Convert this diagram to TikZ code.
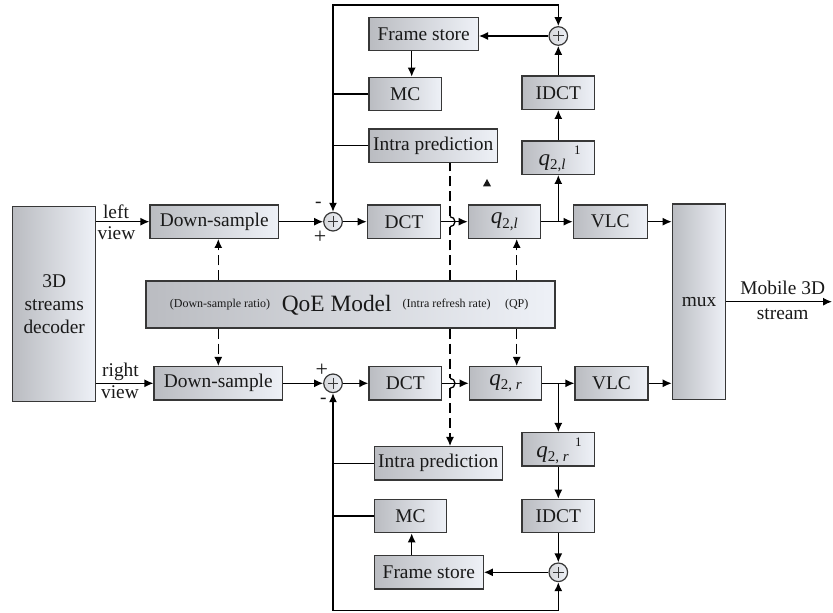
\documentclass[tikz,border=0pt]{standalone}
\usepackage{fontspec}
\setmainfont{Liberation Serif}
\usetikzlibrary{arrows.meta}
\definecolor{bxL}{RGB}{186,188,193}
\definecolor{bxR}{RGB}{238,241,247}
\definecolor{edge}{RGB}{55,55,55}
\definecolor{txt}{RGB}{25,25,25}
\newcommand{\qsym}[1]{{\fontsize{11.5}{12}\selectfont\textit{q}}\raisebox{-0.5ex}{\fontsize{7.5}{8}\selectfont #1}}
\begin{document}
\begin{tikzpicture}[x=0.5pt,y=-0.5pt,
  font=\fontsize{9.7}{11.5}\selectfont,
  box/.style={draw=edge, line width=0.6pt, left color=bxL, right color=bxR, inner sep=0pt, align=center, text=txt, minimum height=16.7pt},
  sumc/.style={circle, draw=edge, line width=0.6pt, left color=bxL!60!white, right color=bxR, minimum size=9.3pt, inner sep=0pt,
    path picture={\draw[line width=0.5pt, edge]
      ([yshift=-2pt]path picture bounding box.north) -- ([yshift=2pt]path picture bounding box.south)
      ([xshift=2pt]path picture bounding box.west) -- ([xshift=-2pt]path picture bounding box.east);}},
  arr/.style={line width=0.65pt, -{Latex[length=4.5pt,width=4pt]}},
  arrb/.style={line width=0.65pt, {Latex[length=4.5pt,width=4pt]}-{Latex[length=4.5pt,width=4pt]}},
  ln/.style={line width=0.65pt},
  dsh/.style={line width=0.65pt, dash pattern=on 5pt off 2.5pt},
  lbl/.style={inner sep=0pt, text=txt},
  small/.style={font=\fontsize{6}{7}\selectfont}
]
\path[use as bounding box] (0,0) rectangle (833,613);

% ---- boxes
\node[box, minimum width=41.5pt, minimum height=97.5pt] (dec) at (54.2,304.2) {3D\\streams\\decoder};
\node[box, minimum width=64.2pt] (dsl) at (214.2,221.7) {Down-sample};
\node[box, minimum width=64.3pt] (dsr) at (218.3,383.3) {Down-sample};
\node[box, minimum width=204.5pt, minimum height=23.5pt] (qoe) at (350.5,304.5) {};
\node[lbl, small, anchor=base] (qoe1) at (220,307.5) {(Down-sample ratio)};
\node[lbl, font=\fontsize{11.7}{13}\selectfont, anchor=base] (qoe2) at (336.7,312) {QoE Model};
\node[lbl, small, anchor=base] (qoe3) at (446.7,307.5) {(Intra refresh rate)};
\node[lbl, small, anchor=base] (qoe4) at (516.7,307.5) {(QP)};

\node[box, minimum width=36.7pt] (dctl) at (404,221.7) {DCT};
\node[box, minimum width=36.4pt] (dctr) at (405.3,383.3) {DCT};
\node[box, minimum width=36.1pt] (ql) at (504.4,221.7) {\qsym{2,\textit{l}}};
\node[box, minimum width=36.2pt] (qr) at (505.5,383.3) {\qsym{2, \textit{r}}};
\node[box, minimum width=36.9pt] (vlcl) at (610.2,221.7) {VLC};
\node[box, minimum width=36.5pt] (vlcr) at (611.5,383.3) {VLC};
\node[box, minimum width=26.7pt, minimum height=97.7pt] (mux) at (699,301.7) {mux};

\node[box, minimum width=54.7pt] (fsl) at (423.7,34) {Frame store};
\node[box, minimum width=36.4pt] (mcl) at (405.3,94) {MC};
\node[box, minimum width=64.2pt] (ipl) at (433.2,145.7) {Intra prediction};
\node[box, minimum width=36.3pt] (idctl) at (558.3,92.7) {IDCT};
\node[box, minimum width=36.3pt] (qil) at (558.3,157.7) {};
\node[lbl] (qilt) at (552,163) {\qsym{2,\textit{l}}};
\node[lbl, font=\fontsize{6.5}{7}\selectfont] (qils) at (577.3,150) {1};

\node[box, minimum width=64pt] (ipr) at (438.3,463.3) {Intra prediction};
\node[box, minimum width=36.2pt] (mcr) at (410.5,516) {MC};
\node[box, minimum width=54.5pt] (fsr) at (428.8,572.3) {Frame store};
\node[box, minimum width=36.3pt] (qir) at (558.3,449.3) {};
\node[lbl] (qirt) at (552.5,455) {\qsym{2, \textit{r}}};
\node[lbl, font=\fontsize{6.5}{7}\selectfont] (qirs) at (578.3,442.7) {1};
\node[box, minimum width=36.3pt] (idctr) at (558.3,516) {IDCT};

% ---- sum circles
\node[sumc] (pl) at (333,221.7) {};
\node[sumc] (pr) at (333,383.3) {};
\node[sumc] (sl) at (558.3,36) {};
\node[sumc] (sr) at (558.3,572.3) {};

% ---- signs
\node[lbl] (mnl) at (318.3,205) {-};
\node[lbl, font=\fontsize{11}{11}\selectfont] (psl) at (320,237.3) {+};
\node[lbl, font=\fontsize{11}{11}\selectfont] (psr) at (321.7,370) {+};
\node[lbl] (mnr) at (323.3,401) {-};

% ---- labels
\node[lbl, anchor=base] (lft) at (116,218.3) {left};
\node[lbl, anchor=base] (lfv) at (116.5,240) {view};
\node[lbl, anchor=base] (rgt) at (120.5,376.7) {right};
\node[lbl, anchor=base] (rgv) at (120,398.3) {view};
\node[lbl, anchor=base] (mob) at (782.7,295) {Mobile 3D};
\node[lbl, anchor=base] (str) at (782.7,319.3) {stream};

% ---- coordinates
\coordinate (jl) at (558.3,221.7);
\coordinate (jr) at (558.3,383.3);
\coordinate (tl) at (333,5);
\coordinate (tr) at (558.3,5);
\coordinate (bl) at (333,610.7);
\coordinate (br) at (558.3,610.7);
\coordinate (out) at (832,301.7);

% ---- top row
\draw[arr] (dec.east |- dsl.west) -- (dsl.west);
\draw[arr] (dsl.east) -- (pl.west);
\draw[arr] (pl.east) -- (dctl.west);
\draw[arr] (dctl.east) -- (ql.west);
\draw[arr] (ql.east) -- (vlcl.west);
\draw[arr] (jl) -- (qil.south);
\draw[arr] (qil.north) -- (idctl.south);
\draw[arr] (idctl.north) -- (sl.south);
\draw[arr] (sl.west) -- (sl.west -| fsl.east);
\draw[arr] (411.7,0 |- fsl.south) -- (411.7,0 |- mcl.north);
\draw[ln] (mcl.west) -- (mcl.west -| tl);
\draw[ln] (ipl.west) -- (ipl.west -| tl);
\draw[arrb] (pl.north) -- (tl) -- (tr) -- (sl.north);
\draw[arr] (vlcl.east) -- (vlcl.east -| mux.west);

% ---- bottom row
\draw[arr] (dec.east |- dsr.west) -- (dsr.west);
\draw[arr] (dsr.east) -- (pr.west);
\draw[arr] (pr.east) -- (dctr.west);
\draw[arr] (dctr.east) -- (qr.west);
\draw[arr] (qr.east) -- (vlcr.west);
\draw[arr] (jr) -- (qir.north);
\draw[arr] (qir.south) -- (idctr.north);
\draw[arr] (idctr.south) -- (sr.north);
\draw[arr] (sr.west) -- (sr.west -| fsr.east);
\draw[arr] (411.7,0 |- fsr.north) -- (411.7,0 |- mcr.south);
\draw[ln] (mcr.west) -- (mcr.west -| bl);
\draw[ln] (ipr.west) -- (ipr.west -| bl);
\draw[arrb] (pr.south) -- (bl) -- (br) -- (sr.south);
\draw[arr] (vlcr.east) -- (vlcr.east -| mux.west);

% ---- output
\draw[arr] (mux.east |- out) -- (out);

% ---- dashed control lines
\draw[dsh, -{Latex[length=4.5pt,width=4pt]}] (218.3,0 |- qoe.north) -- (218.3,0 |- dsl.south);
\draw[dsh, -{Latex[length=4.5pt,width=4pt]}] (218.3,0 |- qoe.south) -- (218.3,0 |- dsr.north);
\draw[dsh, -{Latex[length=4.5pt,width=4pt]}] (516.7,0 |- qoe.north) -- (516.7,0 |- ql.south);
\draw[dsh, -{Latex[length=4.5pt,width=4pt]}] (516.7,0 |- qoe.south) -- (516.7,0 |- qr.north);
\draw[dsh] (450,0 |- qoe.north) -- (450,227);
\draw[dsh] (450,216.5) -- (450,0 |- ipl.south);
\draw[ln] (450,216.7) arc[start angle=-90, end angle=90, radius=5];
\draw[dsh, -{Latex[length=4.5pt,width=4pt]}] (450,0 |- qoe.south) -- (450,378) (450,388.5) -- (450,0 |- ipr.north);
\draw[ln] (450,378.3) arc[start angle=-90, end angle=90, radius=5];

% ---- stray mark
\fill[txt] (483,186.3) -- (491,186.3) -- (487,179) -- cycle;
\end{tikzpicture}
\end{document}
